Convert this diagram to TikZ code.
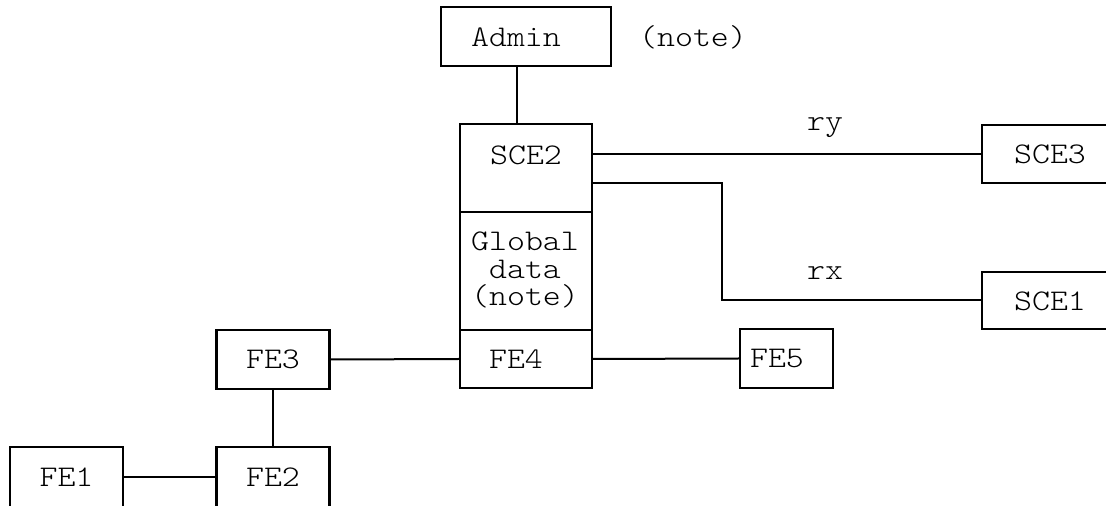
\documentclass[tikz,border=0pt]{standalone}
\usepackage{fontspec}
\setmonofont[FakeStretch=1.14]{Latin Modern Mono Light}
\begin{document}
\begin{tikzpicture}[x=0.5pt,y=-0.5pt,
  box/.style={draw=black,line width=1.1pt,minimum width=#1*0.5pt,inner sep=0pt},
  box/.default=113,
  lbl/.style={font=\ttfamily\fontsize{15}{13.8}\selectfont,inner sep=0pt,align=center},
  wire/.style={draw=black,line width=1pt}]
\useasboundingbox (0,0) rectangle (1106,506);
% boxes
\node[box=170,minimum height=29.5pt] (admin) at (526,36.5) {};
\node[box=132,minimum height=44pt] (sce2) at (526,168) {};
\node[box=132,minimum height=59pt] (gdata) at (526,271) {};
\node[box=132,minimum height=29pt] (fe4) at (526,359) {};
\node[box=136,minimum height=29pt] (sce3) at (1050,154) {};
\node[box=136,minimum height=28.5pt] (sce1) at (1050,300.5) {};
\node[box=93,minimum height=29.5pt] (fe5) at (786.5,358.5) {};
\node[box=113,minimum height=29.5pt] (fe3) at (273,359.5) {};
\node[box=113,minimum height=30.5pt] (fe2) at (273,477.5) {};
\node[box=113,minimum height=30.5pt] (fe1) at (66.5,477.5) {};
% texts
\node[lbl] (tadmin) at (516,37) {Admin};
\node[lbl] (tnote) at (693,37) {(note)};
\node[lbl] (tsce2) at (526,155) {SCE2};
\node[lbl] (tgdata) at (525,270) {Global\\data\\(note)};
\node[lbl] (tfe4) at (516,359) {FE4};
\node[lbl] (tsce3) at (1050,154) {SCE3};
\node[lbl] (tsce1) at (1050,301) {SCE1};
\node[lbl] (tfe5) at (777,359) {FE5};
\node[lbl] (tfe3) at (273,359.5) {FE3};
\node[lbl] (tfe2) at (273,477) {FE2};
\node[lbl] (tfe1) at (66.5,477) {FE1};
\node[lbl] (try) at (825,128) {ry};
\node[lbl] (trx) at (825,273) {rx};
% connectors
\draw[wire] ([xshift=-4.5pt]admin.south) -- ([xshift=-4.5pt]admin.south |- sce2.north);
\draw[wire] (sce3.west -| sce2.east) -- (sce3.west);
\coordinate (rxbend) at (722,183);
\draw[wire] (rxbend -| sce2.east) -- (rxbend) |- (sce1.west);
\draw[wire] (fe4.east) -- (fe5.west);
\draw[wire] (fe3.east) -- (fe4.west);
\draw[wire] (fe3.south) -- (fe2.north);
\draw[wire] (fe1.east) -- (fe2.west);
\end{tikzpicture}
\end{document}
